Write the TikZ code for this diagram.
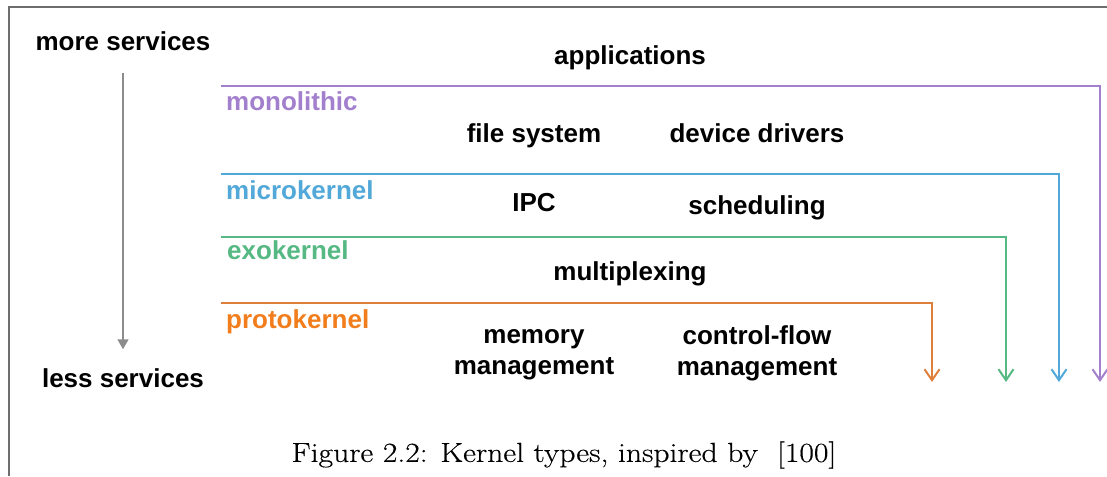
\documentclass[tikz,border=0pt]{standalone}
\usepackage{fontspec}
\newfontfamily\helvfont{Liberation Sans}
\newfontfamily\capfont{Latin Modern Roman}[FakeBold=0.35]
\usetikzlibrary{arrows.meta,positioning}

\definecolor{monocol}{RGB}{163,128,206}
\definecolor{microcol}{RGB}{82,168,216}
\definecolor{exocol}{RGB}{86,184,130}
\definecolor{protocol}{RGB}{242,125,28}
\definecolor{protoline}{RGB}{222,128,60}
\definecolor{framegray}{RGB}{110,110,110}
\definecolor{axisgray}{RGB}{140,140,140}

\tikzset{
  lbl/.style={font=\helvfont\bfseries\fontsize{26}{31}\selectfont, inner sep=0pt, align=center},
  kind/.style={lbl, anchor=north west},
  layer/.style={line width=2pt, -{Straight Barb[length=11pt,width=15pt,line width=2pt]}},
}

\begin{document}
\begin{tikzpicture}[x=1pt,y=-1pt, node distance=6pt and 5pt]
\useasboundingbox (0,0) rectangle (1107,476);
\draw[framegray, line width=2pt] (9,476) -- (9,7) -- (1107,7);

% axis
\node[lbl] (more) at (123,41) {more services};
\node[lbl] (less) at (123,378) {less services};
\draw[axisgray, line width=1.5pt, -{Triangle[length=10pt,width=11pt]},
      shorten <=22pt, shorten >=19pt] (more) -- (less);

% layers
\coordinate (mono-l) at (221,86);
\coordinate (mono-r) at (1100,382);
\coordinate (micro-l) at (221,174);
\coordinate (micro-r) at (1059,382);
\coordinate (exo-l) at (221,237);
\coordinate (exo-r) at (1006,382);
\coordinate (proto-l) at (221,303);
\coordinate (proto-r) at (932,382);

\draw[layer, monocol] (mono-l) -| (mono-r);
\draw[layer, microcol] (micro-l) -| (micro-r);
\draw[layer, exocol] (exo-l) -| (exo-r);
\draw[layer, protoline] (proto-l) -| (proto-r);

\node[kind, monocol, below right=5pt and 5pt of mono-l] (mono) {monolithic};
\node[kind, microcol, below right=of micro-l] (micro) {microkernel};
\node[kind, exocol, below right=3pt and 6pt of exo-l] (exo) {exokernel};
\node[kind, protocol, below right=of proto-l] (proto) {protokernel};

% services
\node[lbl] (apps) at (630,58) {applications};
\node[lbl] (fs) at (534,136) {file system};
\node[lbl] (drv) at (757,133) {device drivers};
\node[lbl] (ipc) at (534,203) {IPC};
\node[lbl] (sched) at (757,208) {scheduling};
\node[lbl] (mux) at (630,274) {multiplexing};
\node[lbl] (mem) at (534,355) {memory\\management};
\node[lbl] (cflow) at (757,353) {control-flow\\management};

\node[font=\capfont\fontsize{27.5}{32}\selectfont, inner sep=0pt, xscale=1.15, transform shape]
  (cap) at (564,455) {Figure 2.2: Kernel types, inspired by~~[100]};
\end{tikzpicture}
\end{document}
